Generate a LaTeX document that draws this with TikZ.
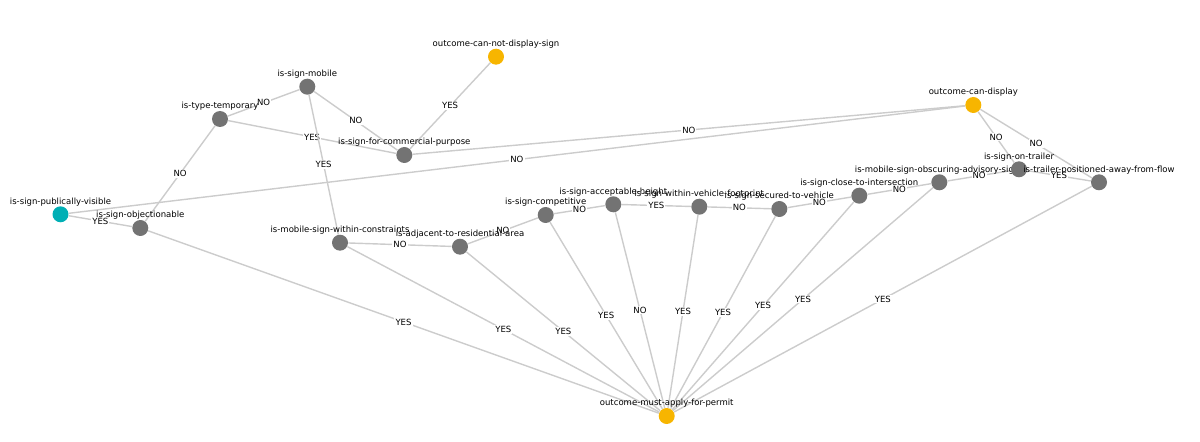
\documentclass[tikz,border=0pt]{standalone}
\usepackage{fontspec}
\setmainfont{DejaVu Sans}
\usetikzlibrary{backgrounds}
\definecolor{outcome}{HTML}{F7B500}
\definecolor{entry}{HTML}{00AFB5}
\definecolor{question}{HTML}{737373}
\definecolor{wire}{HTML}{CCCCCC}
\tikzstyle{qnode}   = [circle, fill=question, inner sep=0pt, minimum size=0.32cm]
\tikzstyle{onode}   = [qnode, fill=outcome]
\tikzstyle{enode}   = [qnode, fill=entry]
\tikzstyle{lbl}     = [font=\fontsize{4.85}{6}\selectfont, inner sep=0pt,
                       text height=3.6pt, text depth=1.2pt, label distance=-0.3pt]
\tikzstyle{edge}    = [draw=wire, line width=0.8pt]
\tikzstyle{answer}  = [font=\fontsize{4.85}{6}\selectfont, fill=white, inner sep=0.6pt]

\begin{document}
\begin{tikzpicture}[x=0.02cm, y=-0.02cm]
  \useasboundingbox (0,0) rectangle (1200,442);

  %% ── Entry and early questions ──
  \node[enode, label={[lbl]above:is-sign-publically-visible}] (visible) at (60.5,214.3) {};
  \node[qnode, label={[lbl]above:is-sign-objectionable}] (objection) at (140.3,228) {};
  \node[qnode, label={[lbl]above:is-type-temporary}] (temporary) at (220,119) {};
  \node[qnode, label={[lbl]above:is-sign-mobile}] (mobile) at (307.3,86.7) {};
  \node[qnode, label={[lbl]above:is-sign-for-commercial-purpose}] (commercial) at (404.3,155) {};
  \node[qnode, label={[lbl]above:is-mobile-sign-within-constraints}] (constraints) at (340,242.7) {};
  \node[qnode, label={[lbl]above:is-adjacent-to-residential-area}] (residential) at (460,246.7) {};

  %% ── Chain of mobile sign checks ──
  \node[qnode, label={[lbl]above:is-sign-competitive}] (competitive) at (545.7,215) {};
  \node[qnode, label={[lbl]above:is-sign-acceptable-height}] (height) at (613.3,204.3) {};
  \node[qnode, label={[lbl]above:is-sign-within-vehicle-footprint}] (footprint) at (699.3,206.7) {};
  \node[qnode, label={[lbl]above:is-sign-secured-to-vehicle}] (secured) at (779.3,209) {};
  \node[qnode, label={[lbl]above:is-sign-close-to-intersection}] (intersection) at (859.3,195.7) {};
  \node[qnode, label={[lbl]above:is-mobile-sign-obscuring-advisory-signs}] (obscuring) at (939.3,182.3) {};
  \node[qnode, label={[lbl]above:is-sign-on-trailer}] (trailer) at (1019,169.3) {};
  \node[qnode, label={[lbl]above:is-trailer-positioned-away-from-flow}] (away) at (1099,182.3) {};

  %% ── Outcomes ──
  \node[onode, label={[lbl]above:outcome-can-not-display-sign}] (cannot) at (496,56.7) {};
  \node[onode, label={[lbl]above:outcome-can-display}] (display) at (973.3,105) {};
  \node[onode, label={[lbl]above:outcome-must-apply-for-permit}] (permit) at (666.7,416) {};

  %% ── Edges ──
  \begin{scope}[on background layer]
    \draw[edge] (visible) -- node[answer] {YES} (objection);
    \draw[edge] (visible) -- node[answer] {NO} (display);
    \draw[edge] (objection) -- node[answer] {NO} (temporary);
    \draw[edge] (objection) -- node[answer] {YES} (permit);
    \draw[edge] (temporary) -- node[answer] {NO} (mobile);
    \draw[edge] (temporary) -- node[answer] {YES} (commercial);
    \draw[edge] (mobile) -- node[answer] {NO} (commercial);
    \draw[edge] (mobile) -- node[answer] {YES} (constraints);
    \draw[edge] (commercial) -- node[answer] {YES} (cannot);
    \draw[edge] (commercial) -- node[answer] {NO} (display);
    \draw[edge] (constraints) -- node[answer] {NO} (residential);
    \draw[edge] (constraints) -- node[answer] {YES} (permit);
    \draw[edge] (residential) -- node[answer] {NO} (competitive);
    \draw[edge] (residential) -- node[answer] {YES} (permit);
    \draw[edge] (competitive) -- node[answer] {NO} (height);
    \draw[edge] (competitive) -- node[answer] {YES} (permit);
    \draw[edge] (height) -- node[answer] {YES} (footprint);
    \draw[edge] (height) -- node[answer] {NO} (permit);
    \draw[edge] (footprint) -- node[answer] {NO} (secured);
    \draw[edge] (footprint) -- node[answer] {YES} (permit);
    \draw[edge] (secured) -- node[answer] {NO} (intersection);
    \draw[edge] (secured) -- node[answer] {YES} (permit);
    \draw[edge] (intersection) -- node[answer] {NO} (obscuring);
    \draw[edge] (intersection) -- node[answer] {YES} (permit);
    \draw[edge] (obscuring) -- node[answer] {NO} (trailer);
    \draw[edge] (obscuring) -- node[answer] {YES} (permit);
    \draw[edge] (trailer) -- node[answer] {YES} (away);
    \draw[edge] (trailer) -- node[answer] {NO} (display);
    \draw[edge] (away) -- node[answer] {NO} (display);
    \draw[edge] (away) -- node[answer] {YES} (permit);
  \end{scope}

\end{tikzpicture}
\end{document}
